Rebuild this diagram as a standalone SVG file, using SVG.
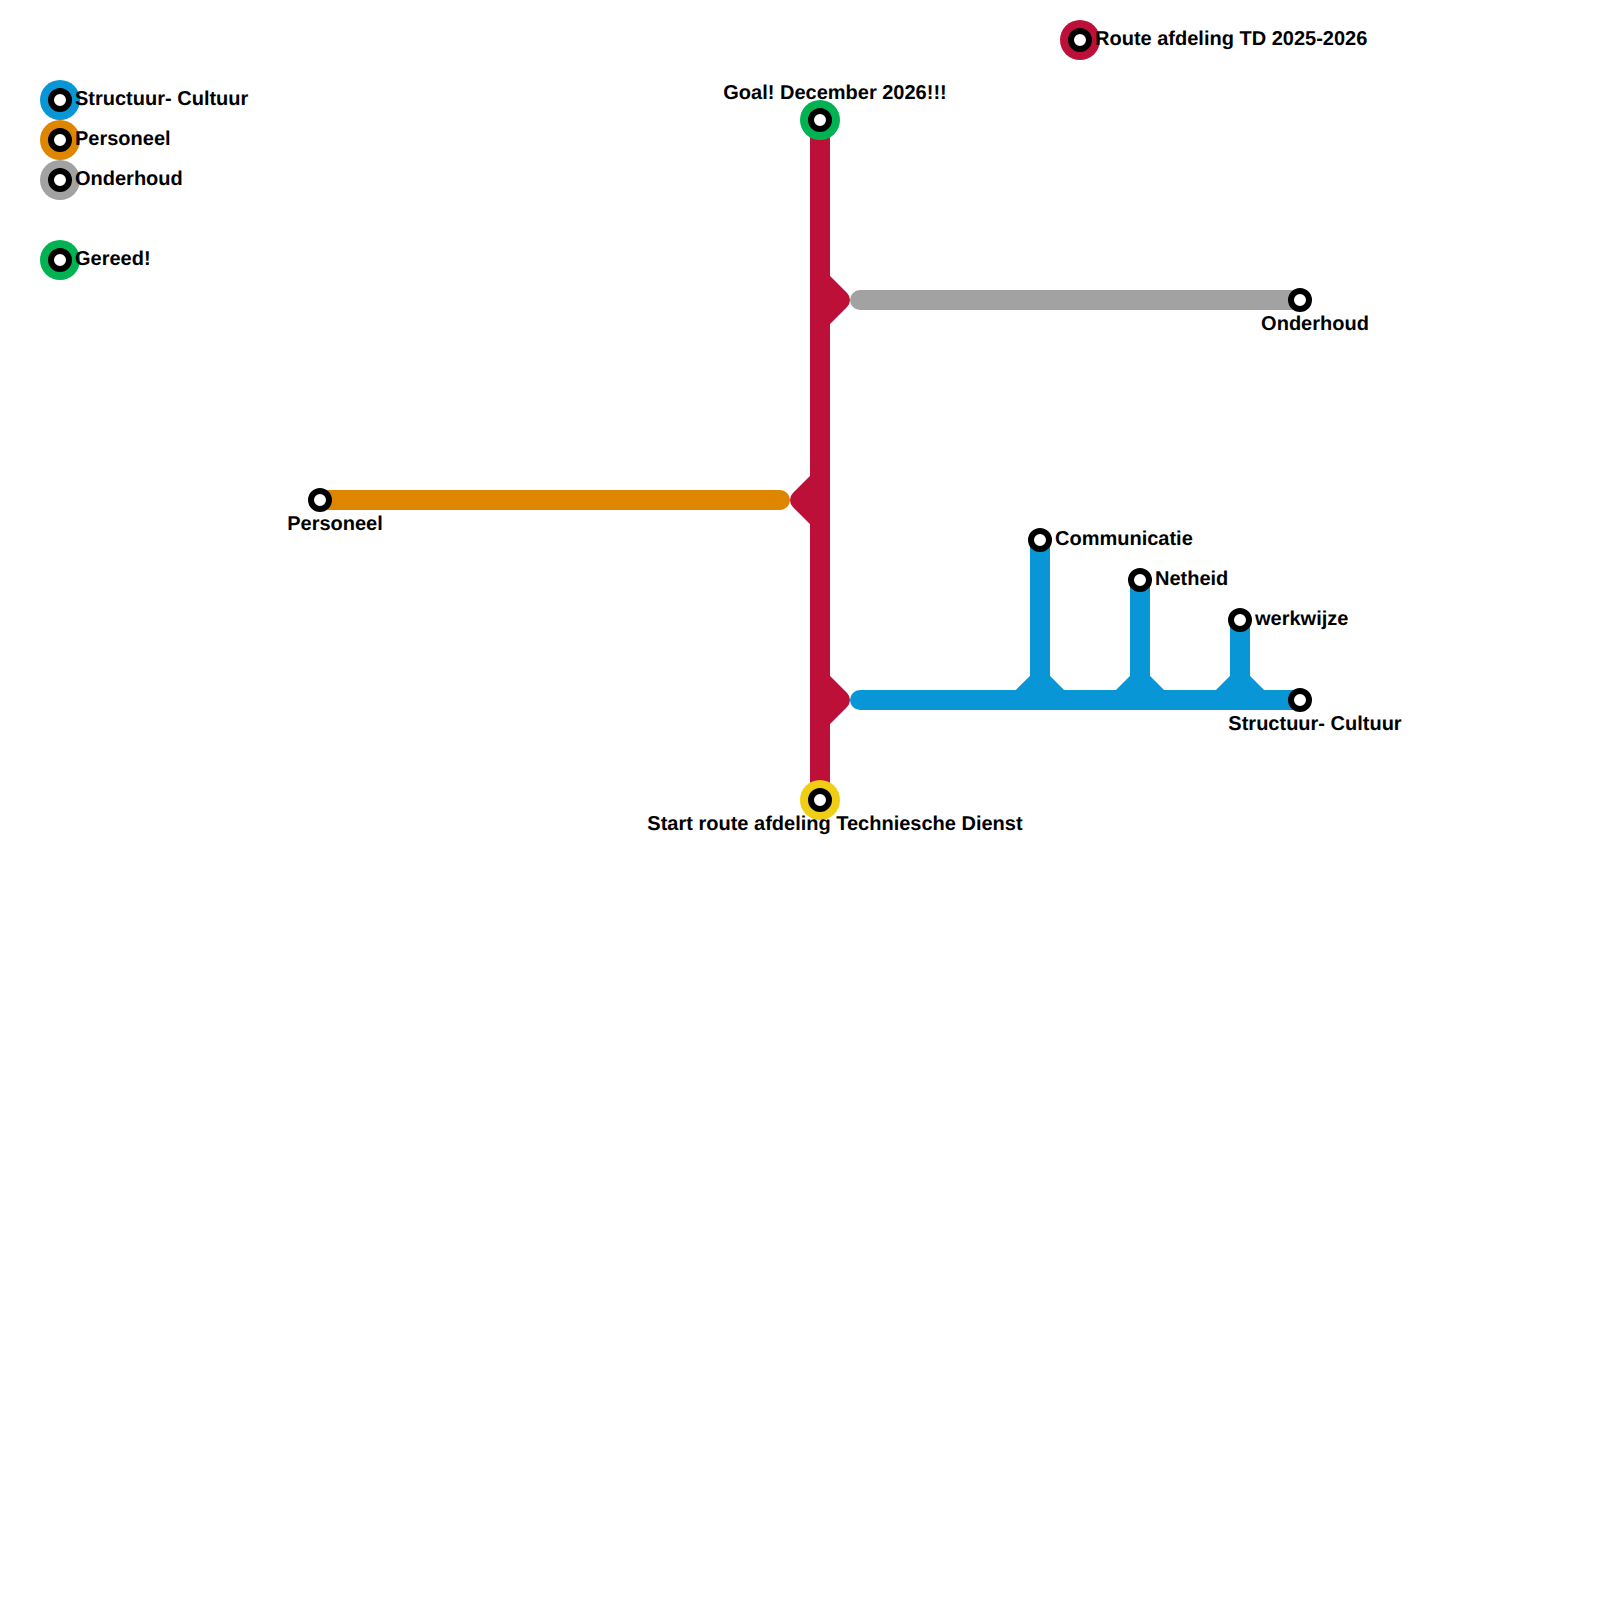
<svg xmlns="http://www.w3.org/2000/svg" width="1600" height="1600" viewBox="0 0 1600 1600">
<style>
.l{fill:none;stroke-width:20;stroke-linecap:round;stroke-linejoin:round}
.red{stroke:#BD1038}.blue{stroke:#0896D7}.orange{stroke:#DF8600}.gray{stroke:#A2A2A2}
.i{fill:#fff;stroke:#000;stroke-width:6}
text{font-family:"Liberation Sans",Arial,sans-serif;font-weight:bold;font-size:20px;fill:#000;text-rendering:geometricPrecision}
</style>
<rect width="1600" height="1600" fill="#fff"/>
<g id="connectors">
<path class="l red" d="M820 120V800"/>
<path class="l red" d="M820 280L840 300L820 320"/>
<path class="l red" d="M820 480L800 500L820 520"/>
<path class="l red" d="M820 680L840 700L820 720"/>
<path class="l gray" d="M860 300H1300"/>
<path class="l orange" d="M320 500H780"/>
<path class="l blue" d="M860 700H1300"/>
<path class="l blue" d="M1040 540V680M1020 700L1040 680L1060 700"/>
<path class="l blue" d="M1140 580V680M1120 700L1140 680L1160 700"/>
<path class="l blue" d="M1240 620V680M1220 700L1240 680L1260 700"/>
</g>
<g id="legend-structuur"><circle cx="60" cy="100" r="20" fill="#0896D7"/><circle class="i" cx="60" cy="100" r="9"/><text x="75" y="105">Structuur- Cultuur</text></g>
<g id="legend-personeel"><circle cx="60" cy="140" r="20" fill="#DF8600"/><circle class="i" cx="60" cy="140" r="9"/><text x="75" y="145">Personeel</text></g>
<g id="legend-onderhoud"><circle cx="60" cy="180" r="20" fill="#A2A2A2"/><circle class="i" cx="60" cy="180" r="9"/><text x="75" y="185">Onderhoud</text></g>
<g id="legend-gereed"><circle cx="60" cy="260" r="20" fill="#00B251"/><circle class="i" cx="60" cy="260" r="9"/><text x="75" y="265">Gereed!</text></g>
<g id="legend-route"><circle cx="1080" cy="40" r="20" fill="#BD1038"/><circle class="i" cx="1080" cy="40" r="9"/><text x="1095" y="45">Route afdeling TD 2025-2026</text></g>
<g id="goal"><circle cx="820" cy="120" r="20" fill="#00B251"/><circle class="i" cx="820" cy="120" r="9"/><text x="835" y="99" text-anchor="middle">Goal! December 2026!!!</text></g>
<g id="start"><circle cx="820" cy="800" r="20" fill="#F0CE15"/><circle class="i" cx="820" cy="800" r="9"/><text x="835" y="830" text-anchor="middle">Start route afdeling Techniesche Dienst</text></g>
<g id="onderhoud"><circle class="i" cx="1300" cy="300" r="9"/><text x="1315" y="330" text-anchor="middle">Onderhoud</text></g>
<g id="personeel"><circle class="i" cx="320" cy="500" r="9"/><text x="335" y="530" text-anchor="middle">Personeel</text></g>
<g id="communicatie"><circle class="i" cx="1040" cy="540" r="9"/><text x="1055" y="545">Communicatie</text></g>
<g id="netheid"><circle class="i" cx="1140" cy="580" r="9"/><text x="1155" y="585">Netheid</text></g>
<g id="werkwijze"><circle class="i" cx="1240" cy="620" r="9"/><text x="1255" y="625">werkwijze</text></g>
<g id="structuur"><circle class="i" cx="1300" cy="700" r="9"/><text x="1315" y="730" text-anchor="middle">Structuur- Cultuur</text></g>
</svg>
